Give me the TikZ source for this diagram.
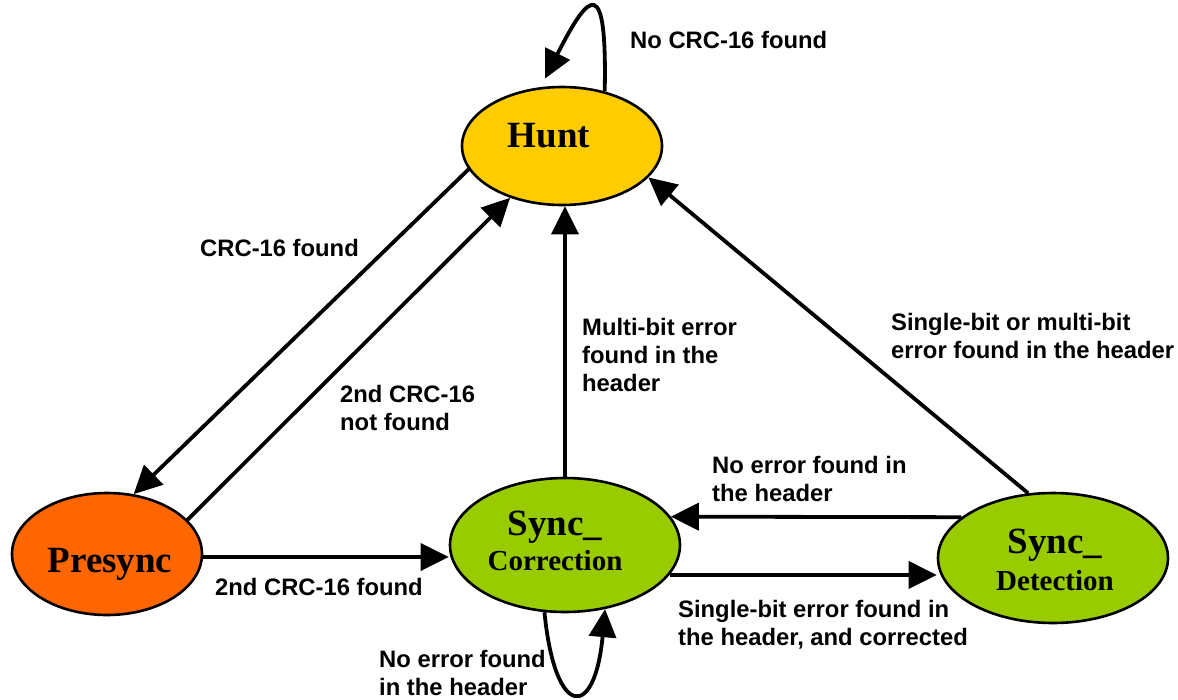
\documentclass[tikz,border=0pt]{standalone}
\usepackage{fontspec}
\setmainfont{Liberation Serif}
\setsansfont{Liberation Sans}
\usetikzlibrary{arrows.meta,shapes.geometric}

\definecolor{huntc}{HTML}{FFCC00}
\definecolor{presc}{HTML}{FF6600}
\definecolor{syncc}{HTML}{99CC00}

% text of a state, offset from the node centre by (#1 right, #2 up), taking no room
\newcommand\stateText[3]{\kern#1\relax\makebox[0pt]{\raisebox{#2}[0pt][0pt]{#3}}\kern-#1\relax}

\begin{document}
\begin{tikzpicture}[x=1pt,y=-1pt]
\tikzset{
  state/.style={ellipse, draw, line width=2.6pt, inner sep=0pt, font=\bfseries},
  edge/.style={line width=3.8pt, -{Triangle[length=28pt 0 0,width=27pt 0]}},
  lbl/.style={anchor=base west, inner sep=0pt, font=\sffamily\bfseries\fontsize{23.8}{28}\selectfont},
}
\useasboundingbox (0,0) rectangle (1178,699);

% states
\node[state, fill=huntc, minimum width=200pt, minimum height=118pt] (Hunt) at (562,146)
  {\stateText{-13pt}{-1pt}{\fontsize{37}{40}\selectfont Hunt}};
\node[state, fill=presc, minimum width=190pt, minimum height=122pt] (Presync) at (107,554)
  {\stateText{3pt}{-18pt}{\fontsize{37}{40}\selectfont Presync}};
\node[state, fill=syncc, minimum width=230pt, minimum height=134pt] (SC) at (565,545)
  {\stateText{-10pt}{10pt}{\fontsize{29}{35}\selectfont\begin{tabular}[t]{@{}c@{}}{\fontsize{37}{35}\selectfont Sync\_}\\Correction\end{tabular}}};
\node[state, fill=syncc, minimum width=230pt, minimum height=130pt] (SD) at (1053,558)
  {\stateText{2pt}{5pt}{\fontsize{29}{37}\selectfont\begin{tabular}[t]{@{}c@{}}{\fontsize{37}{37}\selectfont Sync\_}\\Detection\end{tabular}}};

% transitions
\draw[edge] (Hunt.52) .. controls (607,-25) and (590,-10) .. ([yshift=8pt]Hunt.106);
\draw[edge] (Hunt.194) -- (Presync.66);
\draw[edge] (Presync.23) -- (Hunt.225);
\draw[edge] (SC.north) -- (SC.north |- Hunt.south);
\draw[edge] (SD.111) -- (Hunt.340);
\coordinate (pe) at ([yshift=-3pt]Presync.east);
\draw[edge] (pe) -- (pe -| SC.west);
\draw[edge] (SD.156) -- (SC.15);
\draw[edge] (SC.-16) -- (SC.-16 -| SD.west);
\draw[edge] (SC.253) .. controls (555,720) and (595,720) .. (SC.302);

% transition labels
\node[lbl] (l1) at (630,48) {No CRC-16 found};
\node[lbl] (l2) at (200,256) {CRC-16 found};
\node[lbl] (l3) at (340,402) {\begin{tabular}[t]{@{}l@{}}2nd CRC-16\\not found\end{tabular}};
\node[lbl] (l4) at (582,335) {\begin{tabular}[t]{@{}l@{}}Multi-bit error\\found in the\\header\end{tabular}};
\node[lbl] (l5) at (891,330) {\begin{tabular}[t]{@{}l@{}}Single-bit or multi-bit\\error found in the header\end{tabular}};
\node[lbl] (l6) at (712,473) {\begin{tabular}[t]{@{}l@{}}No error found in\\the header\end{tabular}};
\node[lbl] (l7) at (215,595) {2nd CRC-16 found};
\node[lbl] (l8) at (678,617) {\begin{tabular}[t]{@{}l@{}}Single-bit error found in\\the header, and corrected\end{tabular}};
\node[lbl] (l9) at (379,667) {\begin{tabular}[t]{@{}l@{}}No error found\\in the header\end{tabular}};
\end{tikzpicture}
\end{document}
